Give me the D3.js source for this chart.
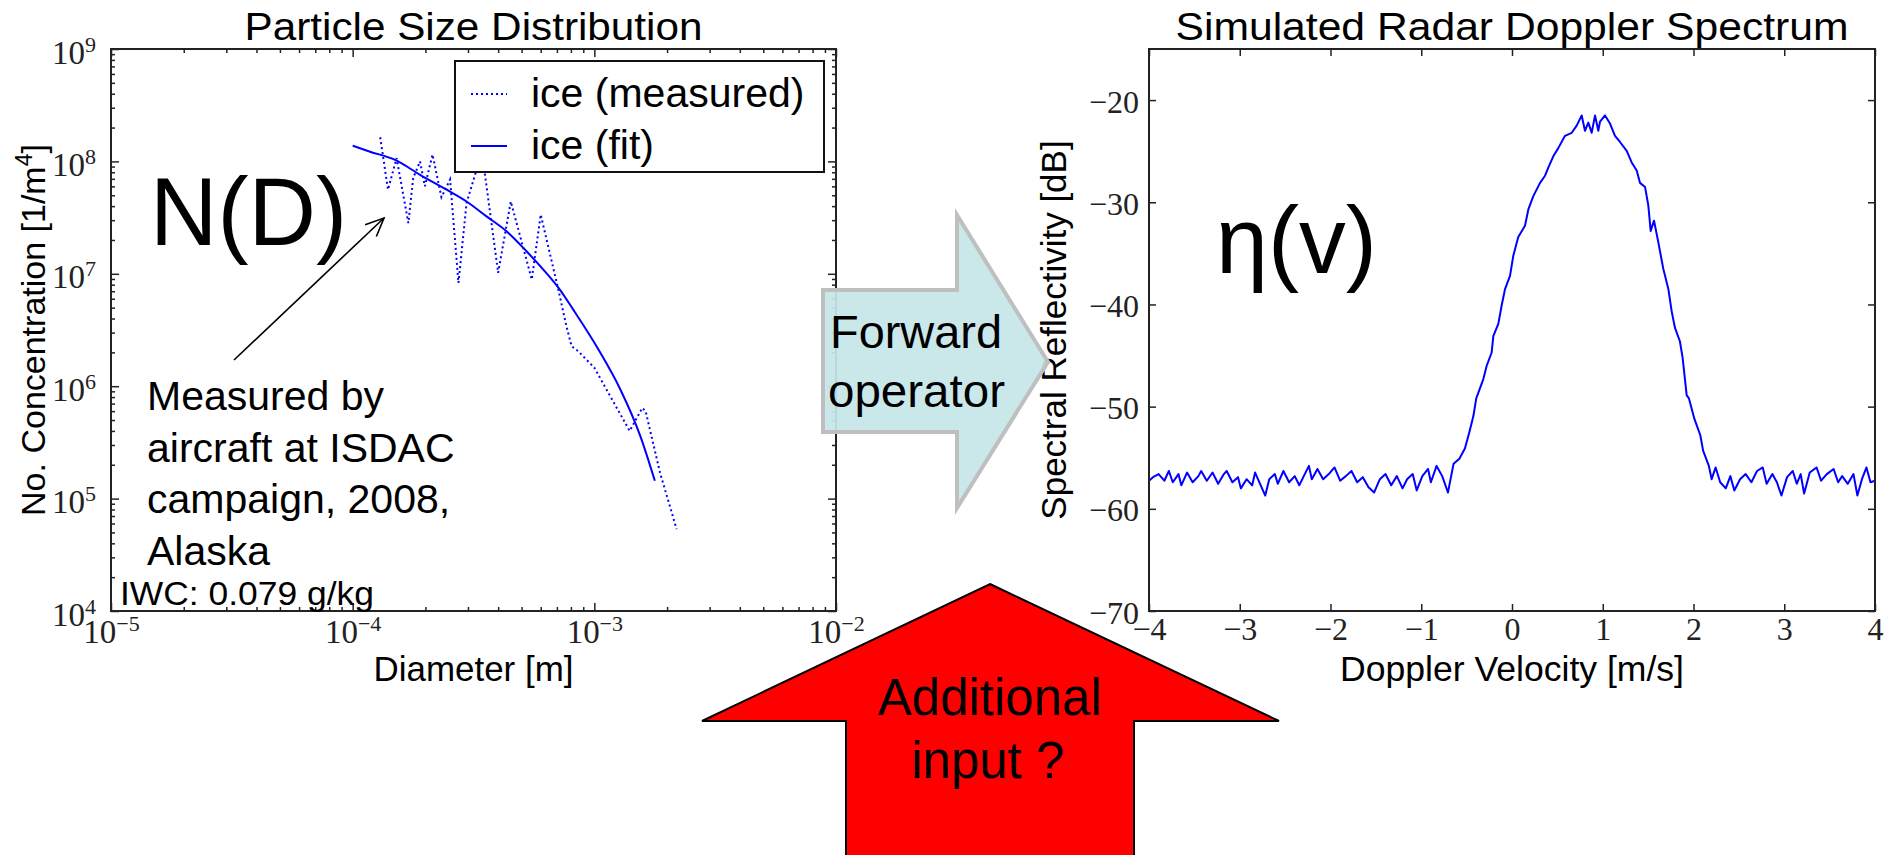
<!DOCTYPE html>
<html><head><meta charset="utf-8">
<script src="https://cdn.jsdelivr.net/npm/d3@7"></script>
<style>html,body{margin:0;padding:0;background:#fff;} svg{display:block;}</style>
</head><body>
<svg id="c" width="1890" height="855"></svg>
<script>
// ---------------- data ----------------
const psdMeasuredD = [1.30e-4, 1.40e-4, 1.52e-4, 1.70e-4, 1.78e-4, 1.90e-4, 1.99e-4, 2.14e-4, 2.33e-4, 2.53e-4, 2.74e-4, 2.96e-4, 3.26e-4, 3.52e-4, 4.00e-4, 4.51e-4, 5.51e-4, 6.00e-4, 7.10e-4, 7.67e-4, 8.05e-4, 8.57e-4, 1.00e-3, 1.40e-3, 1.58e-3, 1.63e-3, 1.87e-3, 2.19e-3];
const psdMeasuredN = [1.64e8, 5.6e7, 1.07e8, 2.83e7, 7.1e7, 1.0e8, 6.0e7, 1.15e8, 4.8e7, 6.9e7, 8.3e6, 4.27e7, 8.5e7, 7.9e7, 1.02e7, 4.4e7, 8.9e6, 3.36e7, 7.2e6, 3.4e6, 2.27e6, 2.05e6, 1.46e6, 4.0e5, 6.4e5, 6.0e5, 1.7e5, 5.35e4];
const psdFitD = [1.0e-4, 1.18e-4, 1.50e-4, 1.90e-4, 2.45e-4, 2.96e-4, 3.58e-4, 4.34e-4, 5.25e-4, 6.15e-4, 7.21e-4, 8.18e-4, 1.04e-3, 1.28e-3, 1.55e-3, 1.78e-3];
const psdFitN = [1.38e8, 1.22e8, 1.03e8, 7.6e7, 5.6e7, 4.4e7, 3.24e7, 2.38e7, 1.58e7, 1.09e7, 7.2e6, 4.8e6, 2.12e6, 9.4e5, 3.6e5, 1.44e5];
const psdXTickExps = [-5, -4, -3, -2];
const psdYTickExps = [4, 5, 6, 7, 8, 9];
const legendLabels = ["ice (measured)", "ice (fit)"];

const dopplerVelocity = [-4.000,-3.956,-3.894,-3.831,-3.781,-3.738,-3.675,-3.644,-3.581,-3.519,-3.456,-3.425,-3.363,-3.300,-3.238,-3.175,-3.144,-3.081,-3.019,-2.988,-2.925,-2.863,-2.831,-2.769,-2.719,-2.675,-2.613,-2.581,-2.519,-2.456,-2.394,-2.344,-2.300,-2.238,-2.206,-2.144,-2.081,-2.019,-1.956,-1.894,-1.831,-1.769,-1.706,-1.644,-1.581,-1.519,-1.456,-1.394,-1.331,-1.269,-1.206,-1.156,-1.094,-1.050,-0.988,-0.925,-0.894,-0.831,-0.769,-0.706,
 -0.644,-0.580,-0.519,-0.470,-0.425,-0.394,-0.316,-0.279,-0.224,-0.206,-0.151,-0.114,-0.077,-0.022,0.015,0.069,0.143,0.180,0.235,0.309,0.364,0.400,0.455,0.510,0.584,0.658,0.713,0.768,0.804,0.841,0.878,0.915,0.951,0.970,1.025,1.080,1.135,1.190,1.264,1.319,1.374,1.410,1.466,1.502,1.528,1.565,1.612,1.667,1.723,1.760,1.796,1.850,1.880,1.925,1.950,2.010,2.075,2.106,2.169,
 2.200,2.244,2.294,2.356,2.406,2.450,2.513,2.575,2.638,2.700,2.763,2.806,2.869,2.919,2.969,3.031,3.094,3.138,3.181,3.219,3.281,3.356,3.406,3.469,3.544,3.594,3.638,3.700,3.763,3.806,3.856,3.906,3.950,4.000];
const dopplerReflectivity = [-57.25,-56.9,-56.6,-57.25,-56.3,-57.4,-56.6,-57.7,-56.45,-57.4,-56.8,-56.3,-57.25,-56.45,-57.55,-56.6,-56.3,-57.4,-56.9,-58.0,-57.1,-57.7,-56.45,-57.7,-58.7,-57.1,-56.6,-57.55,-56.3,-57.4,-56.8,-57.7,-56.9,-55.8,-57.1,-56.1,-57.1,-56.6,-55.95,-57.25,-56.8,-56.3,-57.4,-56.9,-57.9,-58.4,-57.1,-56.6,-57.7,-56.8,-58.0,-57.1,-56.6,-58.2,-56.8,-56.1,-57.4,-55.8,-56.8,-58.4,
 -55.6,-55.1,-54.1,-52.5,-50.9,-49.2,-47.3,-46.0,-44.7,-43.1,-41.9,-40.1,-38.5,-37.2,-35.2,-33.4,-32.3,-30.7,-29.4,-28.1,-27.4,-26.6,-25.5,-24.7,-23.5,-23.2,-22.5,-21.5,-23.0,-22.2,-23.2,-21.5,-23.0,-22.1,-21.5,-22.3,-23.5,-24.1,-24.96,-26.1,-26.9,-28.1,-28.5,-30.3,-32.8,-31.8,-33.9,-36.5,-38.5,-40.7,-42.3,-43.6,-45.2,-48.9,-49.2,-51.2,-52.8,-54.3,-55.8,
 -57.1,-55.95,-57.4,-58.0,-56.8,-58.2,-57.1,-56.6,-57.4,-56.3,-55.95,-57.55,-56.6,-57.4,-58.7,-56.9,-56.3,-57.55,-56.6,-58.5,-56.45,-55.95,-57.25,-56.6,-56.1,-57.4,-56.8,-57.55,-56.6,-58.7,-57.1,-55.95,-57.4,-57.25];
const dopplerXTicks = [-4, -3, -2, -1, 0, 1, 2, 3, 4];
const dopplerYTicks = [-70, -60, -50, -40, -30, -20];

// ---------------- drawing ----------------
const svg = d3.select("#c");
const SANS = "'Liberation Sans', Arial, sans-serif";
const SERIF = "'Liberation Serif', 'Times New Roman', serif";
const BLUE = "#0000ff";
const INK = "#222";

svg.append("rect").attr("width", 1890).attr("height", 855).attr("fill", "#fff");

function styleTicks(g) {
  g.select(".domain").remove();
  g.selectAll(".tick line").attr("stroke", INK).attr("stroke-width", 1.5);
  g.attr("font-family", SERIF).attr("font-size", 33).attr("fill", INK);
}
function minorLog(e0, e1) {
  const out = [];
  for (let e = e0; e < e1; e++) for (let k = 2; k <= 9; k++) out.push(k * Math.pow(10, e));
  return out;
}

// ===== Left panel: particle size distribution =====
const L = {x0: 111, x1: 836, y0: 49, y1: 611};
const xL = d3.scaleLog().domain([1e-5, 1e-2]).range([L.x0, L.x1]);
const yL = d3.scaleLog().domain([1e4, 1e9]).range([L.y1, L.y0]);
const xMajL = psdXTickExps.map(e => Math.pow(10, e));
const yMajL = psdYTickExps.map(e => Math.pow(10, e));
const xMinL = minorLog(-5, -2), yMinL = minorLog(4, 9);

[[d3.axisBottom, L.y1], [d3.axisTop, L.y0]].forEach(([ax, pos]) => {
  svg.append("g").attr("transform", `translate(0,${pos})`)
    .call(ax(xL).tickValues(xMinL).tickSize(-4).tickSizeOuter(0).tickFormat("")).call(styleTicks);
});
[[d3.axisLeft, L.x0], [d3.axisRight, L.x1]].forEach(([ax, pos]) => {
  svg.append("g").attr("transform", `translate(${pos},0)`)
    .call(ax(yL).tickValues(yMinL).tickSize(-4).tickSizeOuter(0).tickFormat("")).call(styleTicks);
});
const gxL = svg.append("g").attr("transform", `translate(0,${L.y1})`)
  .call(d3.axisBottom(xL).tickValues(xMajL).tickSize(-8).tickSizeOuter(0)).call(styleTicks);
svg.append("g").attr("transform", `translate(0,${L.y0})`)
  .call(d3.axisTop(xL).tickValues(xMajL).tickSize(-8).tickSizeOuter(0).tickFormat("")).call(styleTicks);
const gyL = svg.append("g").attr("transform", `translate(${L.x0},0)`)
  .call(d3.axisLeft(yL).tickValues(yMajL).tickSize(-8).tickSizeOuter(0)).call(styleTicks);
svg.append("g").attr("transform", `translate(${L.x1},0)`)
  .call(d3.axisRight(yL).tickValues(yMajL).tickSize(-8).tickSizeOuter(0).tickFormat("")).call(styleTicks);

function powLabel(sel, supDy) {
  sel.each(function(d) {
    const e = Math.round(Math.log10(d));
    const t = d3.select(this).text(null);
    t.append("tspan").text("10");
    t.append("tspan").attr("dy", supDy).attr("font-size", 22)
      .text(e < 0 ? "\u2212" + Math.abs(e) : String(e));
  });
}
gxL.selectAll(".tick text").attr("y", 32).attr("dy", null).attr("fill", INK).call(powLabel, -12);
gyL.selectAll(".tick text").attr("x", -15).attr("y", 14).attr("dy", null).attr("fill", INK).call(powLabel, -12);

const lineL = d3.line().x(d => xL(d[0])).y(d => yL(d[1]));
svg.append("path").datum(psdMeasuredD.map((d, i) => [d, psdMeasuredN[i]]))
  .attr("d", lineL).attr("fill", "none").attr("stroke", BLUE).attr("stroke-width", 2)
  .attr("stroke-dasharray", "2,3");
svg.append("path").datum(psdFitD.map((d, i) => [d, psdFitN[i]]))
  .attr("d", lineL.curve(d3.curveMonotoneX)).attr("fill", "none").attr("stroke", BLUE).attr("stroke-width", 2);

svg.append("rect").attr("x", L.x0).attr("y", L.y0).attr("width", L.x1 - L.x0).attr("height", L.y1 - L.y0)
  .attr("fill", "none").attr("stroke", INK).attr("stroke-width", 2);

// legend
const lg = svg.append("g");
lg.append("rect").attr("x", 455).attr("y", 61).attr("width", 369).attr("height", 111)
  .attr("fill", "#fff").attr("stroke", "#111").attr("stroke-width", 2);
[[94, 107, "2,3"], [146, 159, null]].forEach(([ly, ty, dash], i) => {
  lg.append("line").attr("x1", 471).attr("x2", 507).attr("y1", ly).attr("y2", ly)
    .attr("stroke", BLUE).attr("stroke-width", 2).attr("stroke-dasharray", dash);
  lg.append("text").attr("x", 531).attr("y", ty).attr("font-family", SANS).attr("font-size", 41)
    .attr("fill", "#000").text(legendLabels[i]);
});

svg.append("text").attr("x", (L.x0 + L.x1) / 2).attr("y", 40).attr("text-anchor", "middle")
  .attr("font-family", SANS).attr("font-size", 38).attr("textLength", 458).attr("lengthAdjust", "spacingAndGlyphs")
  .text("Particle Size Distribution");
svg.append("text").attr("x", (L.x0 + L.x1) / 2).attr("y", 681).attr("text-anchor", "middle")
  .attr("font-family", SANS).attr("font-size", 35).attr("textLength", 200).attr("lengthAdjust", "spacingAndGlyphs")
  .text("Diameter [m]");
const ylab = svg.append("text").attr("transform", `translate(45,${(L.y0 + L.y1) / 2}) rotate(-90)`)
  .attr("text-anchor", "middle").attr("font-family", SANS).attr("font-size", 34);
ylab.append("tspan").text("No. Concentration [1/m");
ylab.append("tspan").attr("dy", -13).attr("font-size", 23).text("4");
ylab.append("tspan").attr("dy", 13).text("]");

svg.append("text").attr("x", 150).attr("y", 245).attr("font-family", SANS).attr("font-size", 96)
  .attr("textLength", 197).attr("lengthAdjust", "spacingAndGlyphs").text("N(D)");
const ann = ["Measured by", "aircraft at ISDAC", "campaign, 2008,", "Alaska"];
ann.forEach((s, i) => svg.append("text").attr("x", 147).attr("y", [410, 462, 513, 565][i])
  .attr("font-family", SANS).attr("font-size", 41).text(s));
svg.append("text").attr("x", 120).attr("y", 605).attr("font-family", SANS).attr("font-size", 34)
  .attr("textLength", 254).attr("lengthAdjust", "spacingAndGlyphs").text("IWC: 0.079 g/kg");
(function() {
  const x1 = 234, y1 = 360, x2 = 384, y2 = 218;
  const a = Math.atan2(y2 - y1, x2 - x1), hl = 20, ha = 0.42;
  svg.append("line").attr("x1", x1).attr("y1", y1).attr("x2", x2).attr("y2", y2)
    .attr("stroke", "#000").attr("stroke-width", 1.6);
  svg.append("path").attr("d",
    `M${x2 - hl * Math.cos(a - ha)},${y2 - hl * Math.sin(a - ha)} L${x2},${y2} L${x2 - hl * Math.cos(a + ha)},${y2 - hl * Math.sin(a + ha)}`)
    .attr("fill", "none").attr("stroke", "#000").attr("stroke-width", 1.6);
})();

// ===== Right panel: Doppler spectrum =====
const R = {x0: 1149, x1: 1875, y0: 49, y1: 611};
const xR = d3.scaleLinear().domain([-4, 4]).range([R.x0, R.x1]);
const yR = d3.scaleLinear().domain([-70, -15]).range([R.y1, R.y0]);
const minusFmt = d => (d < 0 ? "\u2212" + Math.abs(d) : String(d));

const gxR = svg.append("g").attr("transform", `translate(0,${R.y1})`)
  .call(d3.axisBottom(xR).tickValues(dopplerXTicks).tickSize(-7).tickSizeOuter(0).tickFormat(minusFmt)).call(styleTicks);
svg.append("g").attr("transform", `translate(0,${R.y0})`)
  .call(d3.axisTop(xR).tickValues(dopplerXTicks).tickSize(-7).tickSizeOuter(0).tickFormat("")).call(styleTicks);
const gyR = svg.append("g").attr("transform", `translate(${R.x0},0)`)
  .call(d3.axisLeft(yR).tickValues(dopplerYTicks).tickSize(-7).tickSizeOuter(0).tickFormat(minusFmt)).call(styleTicks);
svg.append("g").attr("transform", `translate(${R.x1},0)`)
  .call(d3.axisRight(yR).tickValues(dopplerYTicks).tickSize(-7).tickSizeOuter(0).tickFormat("")).call(styleTicks);
gxR.selectAll(".tick text").attr("y", 29).attr("dy", null).attr("font-size", 32).attr("fill", INK);
gyR.selectAll(".tick text").attr("x", -10).attr("y", 12).attr("dy", null).attr("font-size", 32).attr("fill", INK);

const lineR = d3.line().x(d => xR(d[0])).y(d => yR(d[1]));
svg.append("path").datum(dopplerVelocity.map((v, i) => [v, dopplerReflectivity[i]]))
  .attr("d", lineR).attr("fill", "none").attr("stroke", BLUE).attr("stroke-width", 2).attr("stroke-linejoin", "round");

svg.append("rect").attr("x", R.x0).attr("y", R.y0).attr("width", R.x1 - R.x0).attr("height", R.y1 - R.y0)
  .attr("fill", "none").attr("stroke", INK).attr("stroke-width", 2);

svg.append("text").attr("x", (R.x0 + R.x1) / 2).attr("y", 40).attr("text-anchor", "middle")
  .attr("font-family", SANS).attr("font-size", 38).attr("textLength", 673).attr("lengthAdjust", "spacingAndGlyphs")
  .text("Simulated Radar Doppler Spectrum");
svg.append("text").attr("x", (R.x0 + R.x1) / 2).attr("y", 681).attr("text-anchor", "middle")
  .attr("font-family", SANS).attr("font-size", 35).attr("textLength", 344).attr("lengthAdjust", "spacingAndGlyphs")
  .text("Doppler Velocity [m/s]");
svg.append("text").attr("transform", `translate(1066,${(R.y0 + R.y1) / 2}) rotate(-90)`)
  .attr("text-anchor", "middle").attr("font-family", SANS).attr("font-size", 35)
  .text("Spectral Reflectivity [dB]");
svg.append("text").attr("x", 1216).attr("y", 273).attr("font-family", SANS).attr("font-size", 94)
  .attr("textLength", 161).attr("lengthAdjust", "spacingAndGlyphs").text("\u03b7(v)");

// ===== Flow arrows =====
svg.append("polygon")
  .attr("points", "823,290 957,290 957,215 1048,362 957,508 957,432 823,432")
  .attr("fill", "#c6e5e8").attr("fill-opacity", 0.93).attr("stroke", "#bfbfbf").attr("stroke-width", 4)
  .attr("stroke-linejoin", "miter");
svg.append("text").attr("x", 830).attr("y", 348).attr("font-family", SANS).attr("font-size", 46)
  .attr("textLength", 172).attr("lengthAdjust", "spacingAndGlyphs").text("Forward");
svg.append("text").attr("x", 828).attr("y", 407).attr("font-family", SANS).attr("font-size", 46)
  .attr("textLength", 177).attr("lengthAdjust", "spacingAndGlyphs").text("operator");

svg.append("polygon")
  .attr("points", "990,584 1279,721 1134,721 1134,862 846,862 846,721 702,721")
  .attr("fill", "#ff0000").attr("stroke", "#000").attr("stroke-width", 2);
svg.append("text").attr("x", 990).attr("y", 715).attr("text-anchor", "middle").attr("font-family", SANS)
  .attr("font-size", 51).text("Additional");
svg.append("text").attr("x", 988).attr("y", 778).attr("text-anchor", "middle").attr("font-family", SANS)
  .attr("font-size", 51).text("input ?");
</script>
</body></html>
